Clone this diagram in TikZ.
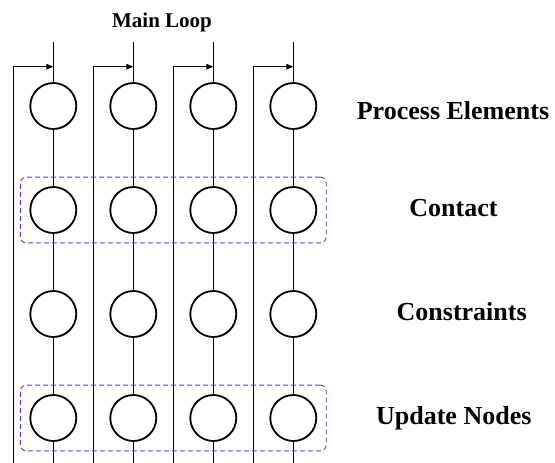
\documentclass[tikz,border=0pt]{standalone}
\usepackage{fontspec}
\setmainfont{Liberation Serif}
\usetikzlibrary{arrows.meta,fit}
\definecolor{groupblue}{RGB}{66,66,232}

\begin{document}
\begin{tikzpicture}[
    x=1pt,y=-1pt,
    elem/.style={circle,draw,line width=1.8pt,minimum size=46pt,inner sep=0pt},
    wire/.style={line width=0.9pt},
    stage/.style={anchor=base,font=\fontsize{26}{30}\selectfont\bfseries},
    group/.style={draw=groupblue,line width=0.9pt,dash pattern=on 5pt off 3pt,
      rounded corners=6pt,inner xsep=9pt,inner ysep=9pt},
    ]
    \useasboundingbox (0,0) rectangle (555,463);

    \node[anchor=base,font=\fontsize{21}{25}\selectfont\bfseries] (mainloop) at (162,27.7) {Main Loop};

    \foreach \c/\x in {1/53.3,2/133.3,3/213.3,4/293.3} {
      \foreach \r/\y in {1/106,2/210,3/314,4/418}
        \node[elem] (n\c\r) at (\x,\y) {};
      \coordinate (top\c) at (\x,42);
      \coordinate (bot\c) at (\x,463);
      \coordinate (tip\c) at (\x,66.7);
      \coordinate (back\c) at (\x-40,66.7);
      \coordinate (low\c) at (\x-40,463);
      \draw[wire] (top\c) -- (n\c1) (n\c1) -- (n\c2) (n\c2) -- (n\c3)
        (n\c3) -- (n\c4) (n\c4) -- (bot\c);
      \draw[wire,-{Triangle[length=7pt,width=5.5pt]}] (low\c) -- (back\c) -- (tip\c);
    }

    \node[group,fit=(n12)(n42)] (contactbox) {};
    \node[group,fit=(n14)(n44)] (updatebox) {};

    \node[stage] (process) at (453,119.5) {Process Elements};
    \node[stage] (contact) at (453.5,216.7) {Contact};
    \node[stage] (constraints) at (461.7,320) {Constraints};
    \node[stage] (update) at (453.8,424) {Update Nodes};
  \end{tikzpicture}
\end{document}
